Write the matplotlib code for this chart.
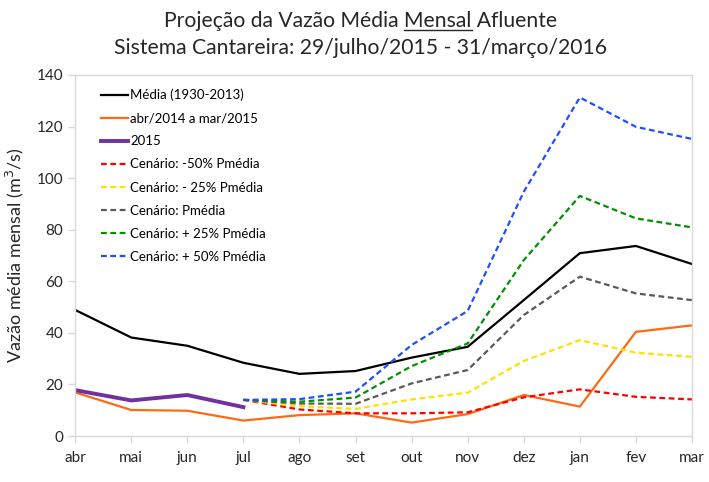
import matplotlib
matplotlib.use("Agg")
import matplotlib.pyplot as plt
from matplotlib.lines import Line2D

months = ["abr", "mai", "jun", "jul", "ago", "set", "out", "nov", "dez", "jan", "fev", "mar"]
media = [48.9, 38.2, 35.0, 28.4, 24.1, 25.2, 30.4, 34.6, 52.7, 70.9, 73.7, 66.7]
abr14_mar15 = [16.9, 10.1, 9.8, 6.0, 8.1, 8.8, 5.2, 8.5, 15.9, 11.4, 40.4, 42.9]
y2015 = [17.8, 13.8, 15.9, 11.2]
scen_m50 = [14.0, 10.3, 8.8, 8.8, 9.2, 15.0, 18.1, 15.2, 14.2]
scen_m25 = [14.0, 11.6, 10.5, 14.2, 16.8, 29.1, 37.2, 32.3, 30.7]
scen_p0 = [14.0, 12.6, 12.5, 20.4, 25.6, 46.9, 61.8, 55.3, 52.7]
scen_p25 = [14.0, 13.3, 14.9, 27.1, 35.9, 68.2, 93.1, 84.4, 80.9]
scen_p50 = [14.0, 14.3, 17.2, 35.3, 48.5, 94.7, 131.3, 119.9, 115.2]

labels = ["Média (1930-2013)", "abr/2014 a mar/2015", "2015",
          "Cenário: -50% Pmédia", "Cenário: - 25% Pmédia", "Cenário: Pmédia",
          "Cenário: + 25% Pmédia", "Cenário: + 50% Pmédia"]

plt.rcParams['font.family'] = ['Lato', 'DejaVu Sans']

fig = plt.figure(figsize=(7.09, 4.82), dpi=100)
ax = fig.add_axes([0.106, 0.0954, 0.870, 0.749])

x = list(range(len(months)))
xs = x[3:]
dash = (0, (2.6, 1.6))
ax.plot(x, media, color="black", lw=1.6, label=labels[0])
ax.plot(x, abr14_mar15, color="#FF6A10", lw=1.6, label=labels[1])
ax.plot(x[:4], y2015, color="#7030A0", lw=2.8, label=labels[2])
ax.plot(xs, scen_m50, color="#FF0000", lw=1.6, ls=dash, label=labels[3])
ax.plot(xs, scen_m25, color="#FFE000", lw=1.6, ls=dash, label=labels[4])
ax.plot(xs, scen_p0, color="#595959", lw=1.6, ls=dash, label=labels[5])
ax.plot(xs, scen_p25, color="#009000", lw=1.6, ls=dash, label=labels[6])
ax.plot(xs, scen_p50, color="#1F4FFF", lw=1.6, ls=dash, label=labels[7])

ax.set_xlim(0, 11)
ax.set_ylim(0, 140)
ax.set_yticks(range(0, 141, 20))
ax.set_xticks(x)
ax.set_xticklabels(months)
for s in ax.spines.values():
    s.set_color("#D9D9D9")
    s.set_linewidth(1.0)
ax.tick_params(axis="both", colors="#D9D9D9", labelcolor="#262626", labelsize=11, length=5, width=1.0)
ax.tick_params(axis="x", pad=6)
ax.set_ylabel("Vazão média mensal (m$^3$/s)", fontsize=13, color="#262626", labelpad=8)

leg = ax.legend(loc="upper left", bbox_to_anchor=(0.022, 0.995), frameon=False, fontsize=9.5,
                handlelength=2.1, handletextpad=0.15, labelspacing=0.84)

line1_full = "Projeção da Vazão Média Mensal Afluente"
t1 = fig.text(0.509, 0.957, line1_full, ha="center", va="center", fontsize=15.2, color="#262626")
fig.text(0.509, 0.900, "Sistema Cantareira: 29/julho/2015 - 31/março/2016", ha="center", va="center",
         fontsize=15.2, color="#262626")

fig.canvas.draw()
r = fig.canvas.get_renderer()
bb = t1.get_window_extent(r)
def width(s):
    tt = fig.text(0, 0, s, fontsize=15.2)
    w = tt.get_window_extent(r).width
    tt.remove()
    return w
w_upto = width("Projeção da Vazão Média Mensal")
w_m = width("Mensal")
x1 = bb.x0 + w_upto
x0 = x1 - w_m
W, H = fig.bbox.width, fig.bbox.height
yline = bb.y0 + 1
fig.add_artist(Line2D([x0 / W, x1 / W], [yline / H, yline / H], color="#262626", lw=1.0,
                      transform=fig.transFigure))

fig.savefig("out.png", dpi=100)
